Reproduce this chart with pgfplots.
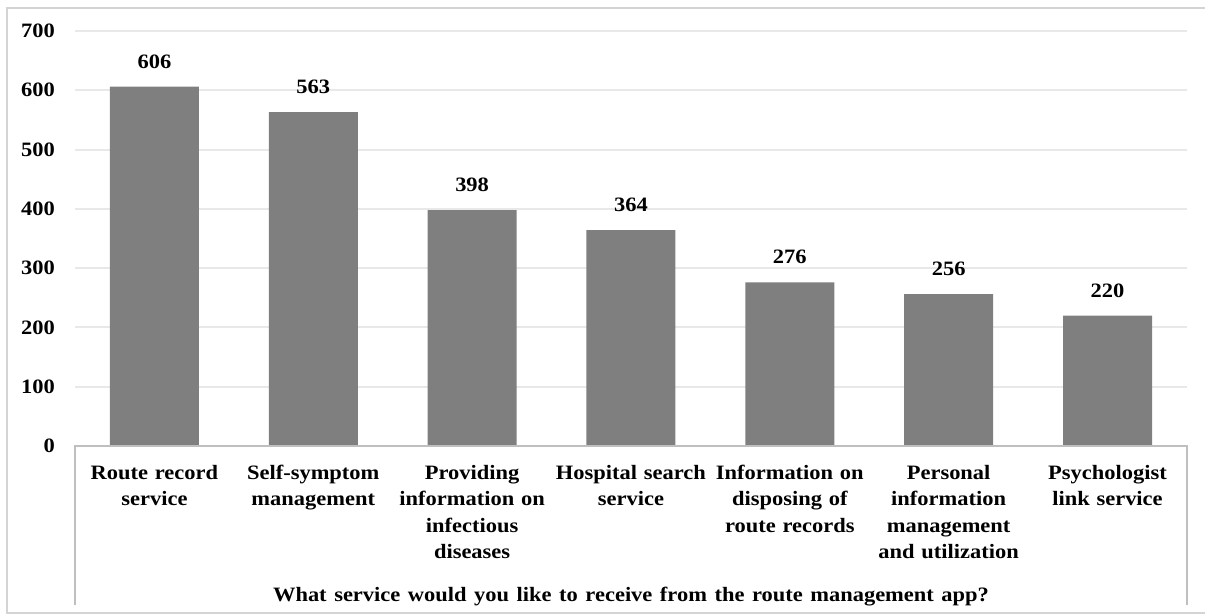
\documentclass[border=0pt]{standalone}
\usepackage{pgfplots}
\pgfplotsset{compat=1.18}
\usepackage{fontspec}
\setmainfont{Liberation Serif}[FakeStretch=1.1]
\definecolor{barfill}{HTML}{7F7F7F}
\definecolor{gridc}{HTML}{E8E8E8}
\definecolor{framec}{HTML}{D4D4D4}
\definecolor{boxc}{HTML}{BFBFBF}
\newcommand{\lbl}{\fontsize{20.5}{26.5}\selectfont\bfseries\spaceskip=0.37em plus 0.1em}
\begin{document}
\begin{tikzpicture}[x=1bp,y=1bp]
\clip (-75,-169) rectangle (1130,446);
\draw[framec, line width=1.5bp] (-68,-167) rectangle (1140,438);
\begin{axis}[
  at={(0,0)}, anchor=south west,
  scale only axis, width=1112bp, height=415bp,
  xmin=-0.5, xmax=6.5, ymin=0, ymax=700,
  ytick={0,100,...,700},
  xtick={0,...,6},
  xticklabels={{Route record\\service},{Self-symptom\\management},{Providing\\information on\\infectious\\diseases},{Hospital search\\service},{Information on\\disposing of\\route records},{Personal\\information\\management\\and utilization},{Psychologist\\link service}},
  xticklabel style={font=\lbl, text width=158bp, align=center, inner sep=0pt, anchor=north, yshift=-19bp},
  yticklabel style={font=\lbl, inner sep=0pt, anchor=east, xshift=-20bp},
  /pgf/number format/assume math mode=true,
  axis line style={draw=none},
  major tick length=0pt,
  ymajorgrids,
  grid style={gridc, line width=2bp},
  ybar, bar width=89bp,
  nodes near coords,
  every node near coord/.append style={font=\lbl, inner sep=0pt, anchor=south, yshift=18bp},
  xlabel={What service would you like to receive from the route management app?},
  xlabel style={font=\lbl, at={(axis description cs:0.5,0)}, anchor=center, yshift=-151bp},
]
\addplot[fill=barfill, draw=none] coordinates {(0,606) (1,563) (2,398) (3,364) (4,276) (5,256) (6,220)};
\end{axis}
\draw[boxc, line width=1.5bp] (0,-159) -- (0,0) -- (1112,0) -- (1112,-159);
\end{tikzpicture}
\end{document}
